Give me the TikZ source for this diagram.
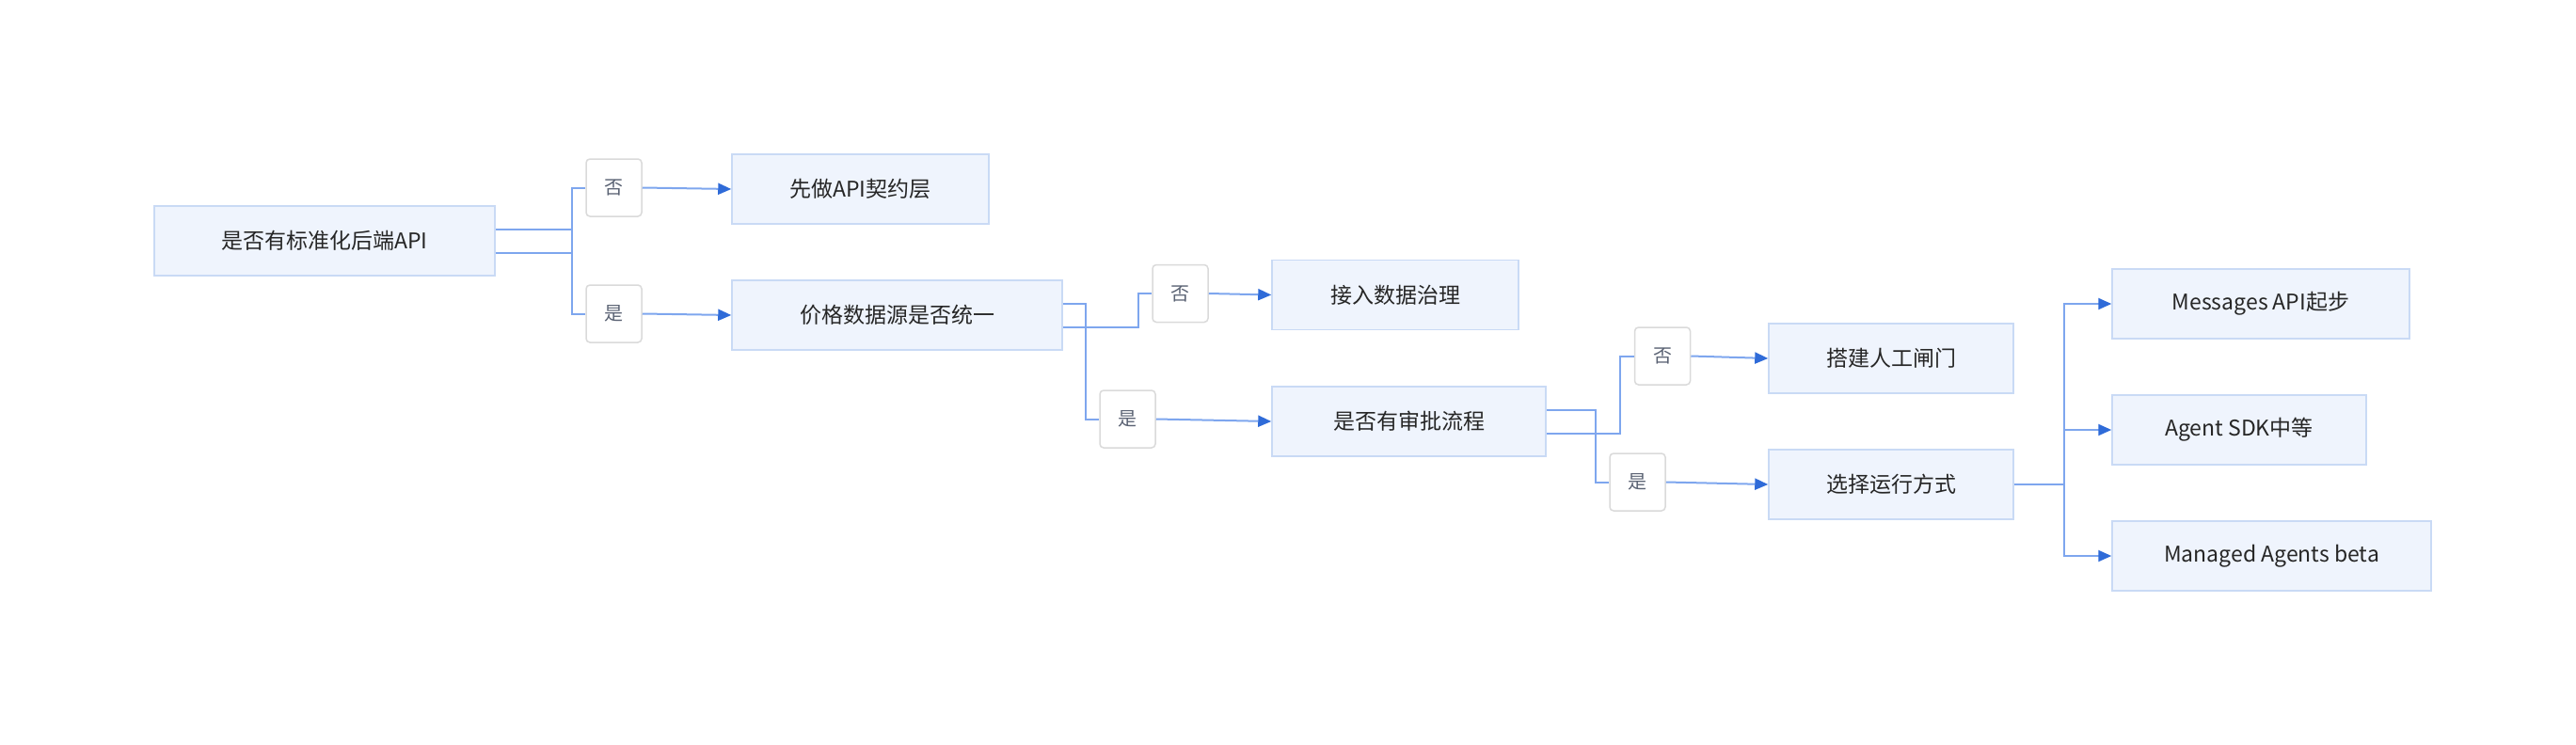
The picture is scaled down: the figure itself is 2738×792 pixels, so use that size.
\documentclass[tikz,border=0pt]{standalone}
\usepackage{fontspec}
\setmainfont{Noto Sans CJK SC}
\usetikzlibrary{arrows.meta}
\definecolor{boxfill}{HTML}{EFF4FD}
\definecolor{boxdraw}{HTML}{C9DAF5}
\definecolor{lnc}{HTML}{7EA6EE}
\definecolor{arc}{HTML}{2F6BD8}
\definecolor{lbltext}{HTML}{5A6273}
\definecolor{lbldraw}{HTML}{DADADA}
\begin{document}
\begin{tikzpicture}[x=1pt,y=-1pt,
  box/.style={draw=boxdraw,line width=1.5pt,fill=boxfill,minimum height=74pt,inner sep=0pt,
    font=\fontsize{23}{28}\selectfont,text=black!85},
  lbl/.style={draw=lbldraw,line width=1.5pt,fill=white,rounded corners=4pt,minimum width=59pt,
    minimum height=61pt,inner sep=0pt,font=\fontsize{20}{24}\selectfont,text=lbltext},
  ln/.style={draw=lnc,line width=2pt},
  arr/.style={ln,-{Triangle[length=14pt,width=12pt,fill=arc,color=arc]}}]
\useasboundingbox (0,0) rectangle (2738,792);
\node[box,minimum width=362pt] (A) at (345,256) {是否有标准化后端API};
\node[box,minimum width=273pt] (B1) at (914.5,201) {先做API契约层};
\node[box,minimum width=351pt] (B2) at (953.5,335) {价格数据源是否统一};
\node[box,minimum width=262pt] (C1) at (1483,313.5) {接入数据治理};
\node[box,minimum width=291pt] (C2) at (1497.5,448) {是否有审批流程};
\node[box,minimum width=260pt] (D1) at (2010,381) {搭建人工闸门};
\node[box,minimum width=260pt] (D2) at (2010,515) {选择运行方式};
\node[box,minimum width=316pt] (E1) at (2403,323) {Messages API起步};
\node[box,minimum width=270pt] (E2) at (2380,457) {Agent SDK中等};
\node[box,minimum width=339pt] (E3) at (2414.5,591) {Managed Agents beta};
\node[lbl] (n1) at (652.5,199.5) {否};
\node[lbl] (y1) at (652.5,333.5) {是};
\node[lbl] (n2) at (1254.5,312) {否};
\node[lbl] (y2) at (1198.5,445.5) {是};
\node[lbl] (n3) at (1767,378.5) {否};
\node[lbl] (y3) at (1740.5,512.5) {是};
\draw[ln] ([yshift=-12.5pt]A.east) -- ++(81,0) |- (n1.west);
\draw[ln] ([yshift=12pt]A.east) -- ++(81,0) |- (y1.west);
\draw[arr] (n1.east) -- (B1.west);
\draw[arr] (y1.east) -- (B2.west);
\draw[ln] ([yshift=-13pt]B2.east) -- ++(80,0) |- (n2.west);
\draw[ln] ([yshift=12pt]B2.east) -- ++(24,0) |- (y2.west);
\draw[arr] (n2.east) -- (C1.west);
\draw[arr] (y2.east) -- (C2.west);
\draw[ln] ([yshift=-13pt]C2.east) -- ++(78,0) |- (n3.west);
\draw[ln] ([yshift=12pt]C2.east) -- ++(52,0) |- (y3.west);
\draw[arr] (n3.east) -- (D1.west);
\draw[arr] (y3.east) -- (D2.west);
\coordinate (F) at ([xshift=53pt]D2.east);
\draw[ln] (D2.east) -- (F);
\draw[arr] (F) |- (E1.west);
\draw[arr] (F) -- (F |- E2.west) -- (E2.west);
\draw[arr] (F) |- (E3.west);
\end{tikzpicture}
\end{document}
